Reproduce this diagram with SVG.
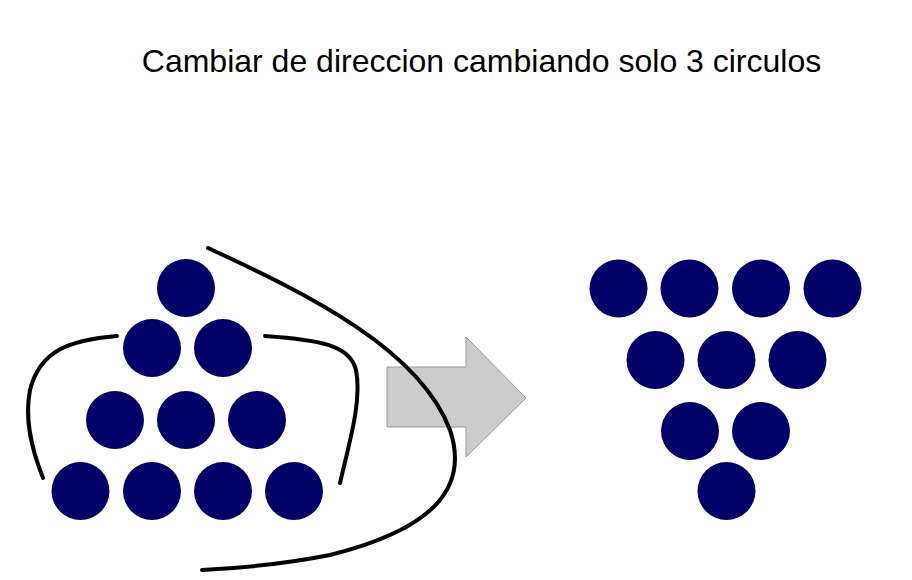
<svg xmlns="http://www.w3.org/2000/svg" width="912" height="580" viewBox="0 0 912 580">
<style>
.dot{fill:#000066}
.curve{fill:none;stroke:#000;stroke-width:4;stroke-linecap:round}
.title{font-family:"Liberation Sans",Arial,sans-serif;font-size:32px;fill:#000}
</style>
<rect width="912" height="580" fill="#fff"/>
<text class="title" x="481.5" y="72" text-anchor="middle">Cambiar de direccion cambiando solo 3 circulos</text>
<g id="arrow">
<path d="M387,367 L466,367 L466,337 L526,398 L466,457 L466,427 L387,427 Z" fill="#cccccc" stroke="#999999" stroke-width="1"/>
</g>
<g id="left-triangle">
<circle class="dot" cx="186" cy="288" r="29"/>
<circle class="dot" cx="152" cy="348" r="29"/>
<circle class="dot" cx="223" cy="348" r="29"/>
<circle class="dot" cx="115" cy="420" r="29"/>
<circle class="dot" cx="186" cy="420" r="29"/>
<circle class="dot" cx="257" cy="420" r="29"/>
<circle class="dot" cx="80.5" cy="491" r="29"/>
<circle class="dot" cx="152" cy="491" r="29"/>
<circle class="dot" cx="223" cy="491" r="29"/>
<circle class="dot" cx="294" cy="491" r="29"/>
</g>
<g id="right-triangle">
<circle class="dot" cx="618.5" cy="288.5" r="29"/>
<circle class="dot" cx="689.5" cy="288.5" r="29"/>
<circle class="dot" cx="761" cy="288.5" r="29"/>
<circle class="dot" cx="832.5" cy="288.5" r="29"/>
<circle class="dot" cx="655.5" cy="360" r="29"/>
<circle class="dot" cx="726.5" cy="360" r="29"/>
<circle class="dot" cx="797.5" cy="360" r="29"/>
<circle class="dot" cx="690" cy="431" r="29"/>
<circle class="dot" cx="761" cy="431" r="29"/>
<circle class="dot" cx="726.5" cy="491" r="29"/>
</g>
<g id="connectors">
<path class="curve" d="M208,248 C310,295 420,350 450,430 C470,490 430,530 330,555 C280,565 240,568 202,570"/>
<path class="curve" d="M117,336 C70,340 40,350 30,390 C24,420 32,450 43,478"/>
<path class="curve" d="M265,336 C320,340 350,345 356,370 C362,400 350,440 340,483"/>
</g>
</svg>
